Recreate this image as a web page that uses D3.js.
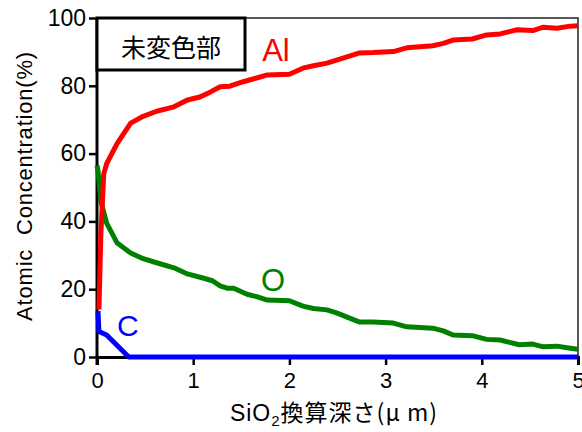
<!DOCTYPE html>
<html>
<head>
<meta charset="utf-8">
<script src="https://cdn.jsdelivr.net/npm/d3@7"></script>
<style>
  body { margin: 0; background: #fff; }
  text { font-family: "Liberation Sans", Arial, "Noto Sans CJK JP", sans-serif; }
</style>
</head>
<body>
<div class="chart-container"></div>
<script>
// depth (um) / atomic concentration (%)
const alDepth = [0.02, 0.04, 0.07, 0.1, 0.21, 0.35, 0.48, 0.62, 0.8, 0.94, 1.07, 1.18, 1.28, 1.38, 1.52, 1.66, 1.77, 2.0, 2.14, 2.25, 2.39, 2.49, 2.73, 2.87, 3.08, 3.22, 3.49, 3.6, 3.7, 3.9, 4.05, 4.19, 4.36, 4.53, 4.64, 4.78, 4.92, 5.0];
const alValues = [14, 36, 54, 57, 63, 69, 71, 72.5, 73.8, 75.8, 76.7, 78.2, 79.7, 79.9, 81.2, 82.3, 83.2, 83.4, 85.2, 85.9, 86.7, 87.6, 89.7, 89.8, 90.1, 91.2, 91.8, 92.5, 93.5, 93.8, 95, 95.3, 96.5, 96.3, 97.3, 97, 97.6, 97.7];

const oDepth = [0, 0.01, 0.04, 0.1, 0.21, 0.35, 0.48, 0.62, 0.8, 0.94, 1.1, 1.2, 1.28, 1.35, 1.42, 1.56, 1.66, 1.77, 2.0, 2.14, 2.25, 2.39, 2.49, 2.73, 2.87, 3.08, 3.22, 3.49, 3.6, 3.7, 3.9, 4.05, 4.19, 4.39, 4.53, 4.64, 4.78, 4.92, 5.0];
const oValues = [56.5, 55, 46, 39.5, 33.6, 30.7, 29, 27.8, 26.3, 24.5, 23.3, 22.5, 21, 20.3, 20.3, 18.5, 17.8, 16.8, 16.6, 15, 14.3, 13.9, 13, 10.3, 10.3, 10, 8.9, 8.5, 7.7, 6.5, 6.3, 5.2, 5, 3.6, 3.8, 3, 3.2, 2.6, 2.3];

const cDepth = [0.01, 0.02, 0.1, 0.33, 5.0];
const cValues = [13.5, 7.5, 6.5, 0, 0];

const xTicks = [0, 1, 2, 3, 4, 5];
const yTicks = [0, 20, 40, 60, 80, 100];

const W = 582, H = 432;
const margin = {top: 18, right: 4, bottom: 75, left: 97};
const width = W - margin.left - margin.right;
const height = H - margin.top - margin.bottom;

const svg = d3.select('.chart-container').append('svg')
  .attr('width', W)
  .attr('height', H);

const chart = svg.append('g')
  .attr('transform', 'translate(' + margin.left + ',' + margin.top + ')');

const x = d3.scaleLinear().domain([0, 5]).range([0, width]);
const y = d3.scaleLinear().domain([0, 100]).range([height, 0]);

/* thin frame top / right */
chart.append('path')
  .attr('d', 'M0,0H' + width + 'V' + height)
  .attr('fill', 'none')
  .attr('stroke', '#222')
  .attr('stroke-width', 1.5);

/* axes */
const xAxis = chart.append('g')
  .attr('transform', 'translate(0,' + height + ')')
  .call(d3.axisBottom(x).tickValues(xTicks).tickSize(8).tickPadding(7).tickFormat(d3.format('d')));
const yAxis = chart.append('g')
  .call(d3.axisLeft(y).tickValues(yTicks).tickSize(8).tickPadding(3).tickFormat(d3.format('d')));

[xAxis, yAxis].forEach(a => {
  a.select('.domain').attr('stroke', '#000').attr('stroke-width', 3);
  a.selectAll('.tick line').attr('stroke', '#000').attr('stroke-width', 2.5);
  a.selectAll('.tick text')
    .attr('fill', '#000')
    .style('font-size', '23px')
    .style('font-family', '"Liberation Sans", Arial, sans-serif');
});
xAxis.selectAll('.tick text').style('font-size', '22px');
yAxis.select('.domain').attr('d', 'M0,' + (height + 8) + 'V0');

/* series lines */
const line = d3.line()
  .x(d => x(d[0]))
  .y(d => y(d[1]));

const series = [
  {name: 'O', depth: oDepth, values: oValues, color: '#008000'},
  {name: 'Al', depth: alDepth, values: alValues, color: '#ff0000'},
  {name: 'C', depth: cDepth, values: cValues, color: '#0000ff'}
];

series.forEach(s => {
  chart.append('path')
    .datum(s.depth.map((d, i) => [d, s.values[i]]))
    .attr('d', line)
    .attr('fill', 'none')
    .attr('stroke', s.color)
    .attr('stroke-width', 5)
    .attr('stroke-linejoin', 'round');
});

/* series labels */
const labels = [
  {text: 'Al', x: 1.86, y: 90.5, color: '#ff0000', size: 31},
  {text: 'O', x: 1.83, y: 22.5, color: '#008000', size: 31},
  {text: 'C', x: 0.32, y: 9.2, color: '#0000ff', size: 30}
];
chart.selectAll('.series-label')
  .data(labels)
  .enter()
  .append('text')
  .attr('x', d => x(d.x))
  .attr('y', d => y(d.y))
  .attr('text-anchor', 'middle')
  .attr('dominant-baseline', 'central')
  .attr('fill', d => d.color)
  .style('font-size', d => d.size + 'px')
  .text(d => d.text);

/* sample label box */
chart.append('rect')
  .attr('x', 0)
  .attr('y', 0)
  .attr('width', 148)
  .attr('height', 52)
  .attr('fill', '#fff')
  .attr('stroke', '#000')
  .attr('stroke-width', 3);
chart.append('text')
  .attr('x', 74)
  .attr('y', 28)
  .attr('text-anchor', 'middle')
  .attr('dominant-baseline', 'central')
  .style('font-size', '25px')
  .style('font-family', '"Noto Sans CJK JP", sans-serif')
  .text('未変色部');

/* axis titles */
svg.append('text')
  .attr('transform', 'translate(24,186) rotate(-90)')
  .attr('text-anchor', 'middle')
  .attr('dominant-baseline', 'central')
  .style('font-size', '22px')
  .style('letter-spacing', '0.8px')
  .style('white-space', 'pre')
  .text('Atomic  Concentration(%)');

const xt = svg.append('text')
  .attr('x', 334)
  .attr('y', 421)
  .attr('text-anchor', 'middle')
  .style('font-size', '23px')
  .style('letter-spacing', '1px')
  .style('white-space', 'pre');
xt.append('tspan').text('SiO');
xt.append('tspan').attr('dy', 5).style('font-size', '15px').text('2');
xt.append('tspan').attr('dy', -5).style('font-family', '"Noto Sans CJK JP", sans-serif').text('換算深さ(μ m)');
</script>
</body>
</html>
